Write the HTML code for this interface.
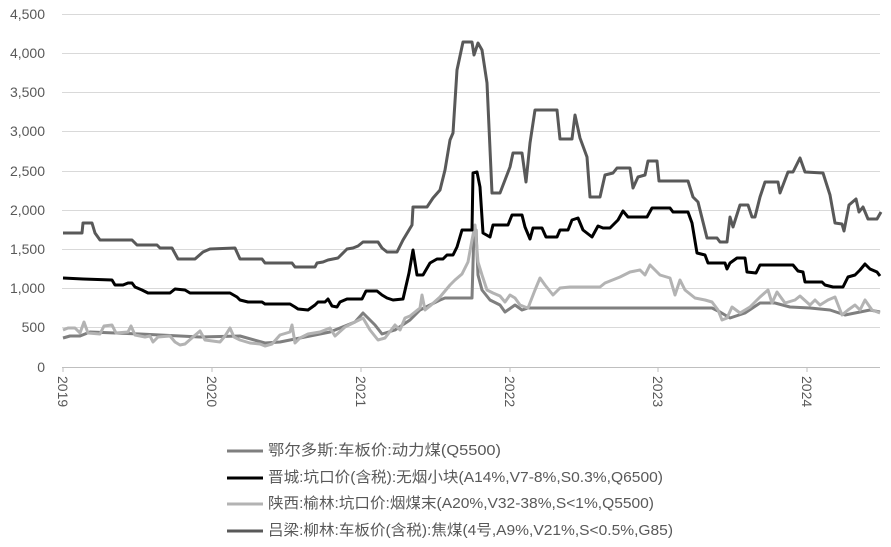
<!DOCTYPE html>
<html><head><meta charset="utf-8"><style>
html,body{margin:0;padding:0;background:#fff;width:891px;height:547px;overflow:hidden}
text{font-family:"Liberation Sans","Noto Sans CJK SC",sans-serif;fill:#595959}
</style></head><body>
<svg width="891" height="547" viewBox="0 0 891 547" xmlns="http://www.w3.org/2000/svg">
<g stroke="#d9d9d9" stroke-width="1">
<line x1="62" y1="14.5" x2="880" y2="14.5"/><line x1="62" y1="53.5" x2="880" y2="53.5"/>
<line x1="62" y1="92.5" x2="880" y2="92.5"/><line x1="62" y1="131.5" x2="880" y2="131.5"/>
<line x1="62" y1="171.5" x2="880" y2="171.5"/><line x1="62" y1="210.5" x2="880" y2="210.5"/>
<line x1="62" y1="249.5" x2="880" y2="249.5"/><line x1="62" y1="288.5" x2="880" y2="288.5"/>
<line x1="62" y1="327.5" x2="880" y2="327.5"/>
</g>
<line x1="62" y1="367.5" x2="880" y2="367.5" stroke="#bfbfbf"/>
<g stroke="#bfbfbf"><line x1="63" y1="367" x2="63" y2="372"/><line x1="212" y1="367" x2="212" y2="372"/><line x1="361" y1="367" x2="361" y2="372"/><line x1="510" y1="367" x2="510" y2="372"/><line x1="658" y1="367" x2="658" y2="372"/><line x1="807" y1="367" x2="807" y2="372"/></g>
<g font-size="14" text-anchor="end">
<text x="45" y="19">4,500</text><text x="45" y="58">4,000</text><text x="45" y="97">3,500</text>
<text x="45" y="136">3,000</text><text x="45" y="176">2,500</text><text x="45" y="215">2,000</text>
<text x="45" y="254">1,500</text><text x="45" y="293">1,000</text><text x="45" y="332">500</text>
<text x="45" y="372">0</text>
</g>
<g font-size="14">
<text transform="translate(58,376) rotate(90)">2019</text>
<text transform="translate(207,376) rotate(90)">2020</text>
<text transform="translate(356,376) rotate(90)">2021</text>
<text transform="translate(505,376) rotate(90)">2022</text>
<text transform="translate(653,376) rotate(90)">2023</text>
<text transform="translate(802,376) rotate(90)">2024</text>
</g>
<g fill="none" stroke-width="3" stroke-linejoin="round">
<polyline stroke="#7f7f7f" points="63,338 70,336 80,336 90,332 140,334 200,337 240,336 265,343 280,342 300,338 330,332 355,322 363,313 375,325 382,334 395,330 410,320 420,310 440,300 445,298 472,298 474,230 476,230 478,275 482,290 490,300 500,305 505,312 515,305 522,310 528,308 712,308 720,312 730,318 745,313 760,303 775,303 790,307 810,308 830,310 845,315 860,312 870,310 880,312"/>
<polyline stroke="#b3b3b3" points="63,330 68,328 75,328 80,333 84,322 88,333 100,334 104,326 112,325 116,333 128,332 131,326 135,335 145,337 150,336 153,342 158,337 170,336 175,342 180,345 185,344 193,337 200,331 205,340 220,342 225,336 230,328 234,337 240,340 250,343 260,344 265,346 272,344 280,335 290,332 292,325 295,343 300,338 308,334 320,332 330,328 335,336 345,327 355,322 363,318 370,330 378,340 385,338 395,325 400,330 405,318 410,316 415,312 420,308 422,295 425,310 430,306 440,297 450,285 455,280 462,274 468,262 472,240 475,225 478,262 482,275 487,290 493,293 500,296 505,302 510,295 515,298 520,305 525,307 528,308 535,290 540,278 545,285 553,295 560,288 570,287 600,287 605,283 620,277 630,272 640,270 645,275 650,265 660,275 670,278 675,295 680,280 685,290 695,298 705,300 712,302 718,310 722,320 727,318 732,307 740,313 750,307 760,297 768,290 772,303 777,292 785,303 795,300 800,296 810,305 815,300 820,305 828,300 835,297 842,315 848,310 855,305 860,310 865,300 872,310 880,313"/>
<polyline stroke="#000" points="63,278 83,279 112,280 115,285 123,285 128,283 132,283 135,287 142,290 148,293 170,293 175,289 185,290 190,293 230,293 237,297 240,300 248,302 262,302 265,304 290,304 295,307 298,309 308,310 315,305 318,302 325,302 328,299 332,306 337,307 340,302 347,299 362,299 366,291 377,291 382,295 387,298 393,300 403,299 409,273 413,250 417,275 423,275 430,263 437,259 443,259 447,255 453,255 457,247 462,230 472,230 473,173 477,172 480,187 483,233 490,237 493,225 508,225 512,215 522,215 525,227 530,239 533,228 542,228 546,237 557,237 560,230 568,230 572,220 578,218 583,230 592,237 598,226 603,228 610,228 618,220 623,211 628,217 647,217 652,208 670,208 673,212 688,212 692,223 697,253 705,255 708,263 725,263 727,269 730,263 737,258 745,258 747,272 756,273 760,265 793,265 798,271 803,272 805,282 822,282 825,285 833,287 843,287 848,277 855,275 860,270 865,264 870,269 877,272 880,276"/>
<polyline stroke="#595959" points="63,233 82,233 83,223 92,223 95,233 100,240 132,240 137,245 157,245 160,248 172,248 178,259 195,259 203,252 210,249 235,248 240,259 262,259 265,263 292,263 295,267 315,267 317,263 323,262 328,260 338,258 347,249 353,248 358,246 363,242 378,242 382,248 387,252 397,252 403,240 412,225 413,207 427,207 433,198 440,190 445,170 450,140 453,133 457,70 463,42 472,42 474,55 478,43 482,50 487,83 492,193 500,193 505,180 510,167 513,153 522,153 526,182 530,143 535,110 557,110 560,139 572,139 575,115 580,138 587,157 590,197 600,197 605,175 613,173 617,168 630,168 633,188 638,177 645,175 648,161 657,161 659,181 688,181 693,197 698,202 707,238 717,238 720,242 727,242 730,217 733,227 740,205 748,205 752,217 755,217 760,197 765,182 778,182 780,193 788,172 793,172 800,158 805,172 823,173 830,195 835,223 842,224 844,231 849,205 856,199 859,212 863,207 868,219 877,219 881,212"/>
</g>
<g stroke-width="3">
<line x1="227" y1="451" x2="263" y2="451" stroke="#7f7f7f"/>
<line x1="227" y1="478" x2="263" y2="478" stroke="#000"/>
<line x1="227" y1="504" x2="263" y2="504" stroke="#b3b3b3"/>
<line x1="227" y1="531" x2="263" y2="531" stroke="#595959"/>
</g>
<g font-size="15">
<text x="268" y="455" textLength="233" lengthAdjust="spacingAndGlyphs">鄂尔多斯:车板价:动力煤(Q5500)</text>
<text x="268" y="482" textLength="395" lengthAdjust="spacingAndGlyphs">晋城:坑口价(含税):无烟小块(A14%,V7-8%,S0.3%,Q6500)</text>
<text x="268" y="508" textLength="386" lengthAdjust="spacingAndGlyphs">陕西:榆林:坑口价:烟煤末(A20%,V32-38%,S&lt;1%,Q5500)</text>
<text x="268" y="535" textLength="405" lengthAdjust="spacingAndGlyphs">吕梁:柳林:车板价(含税):焦煤(4号,A9%,V21%,S&lt;0.5%,G85)</text>
</g>
</svg>
</body></html>
